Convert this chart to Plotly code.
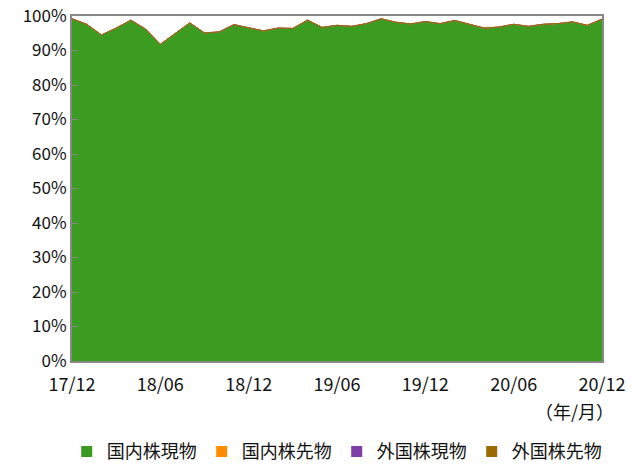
import plotly.graph_objects as go

months = []
y, m = 2017, 12
for i in range(37):
    months.append(f"{y % 100:02d}/{m:02d}")
    m += 1
    if m > 12:
        m = 1
        y += 1

domestic_spot = [99.1, 97.5, 94.4, 96.4, 98.7, 96.1, 91.7, 94.8, 97.9, 95.0,
                 95.3, 97.4, 96.6, 95.6, 96.4, 96.3, 98.7, 96.6, 97.2, 96.9,
                 97.7, 99.1, 98.1, 97.6, 98.3, 97.7, 98.6, 97.5, 96.4, 96.7,
                 97.5, 96.9, 97.5, 97.7, 98.2, 97.2, 99.0]
domestic_fut = [0.1] * 37
foreign_spot = [0.0] * 37
foreign_fut = [0.0] * 37

series_names = ["国内株現物", "国内株先物", "外国株現物", "外国株先物"]
series_vals = [domestic_spot, domestic_fut, foreign_spot, foreign_fut]
colors = ["#3c9c22", "#ff8c00", "#7f3fa8", "#9a6b00"]
tick_labels = ["17/12", "18/06", "18/12", "19/06", "19/12", "20/06", "20/12"]

fig = go.Figure()
for name, vals, c in zip(series_names, series_vals, colors):
    fig.add_trace(go.Scatter(
        x=months, y=[v / 100 for v in vals], name=name,
        mode="lines", stackgroup="one", showlegend=False,
        line=dict(color=c, width=1 if name != "国内株現物" else 0.5),
        fillcolor=c,
    ))
# legend entries with square swatches
for name, c in zip(series_names, colors):
    fig.add_trace(go.Scatter(
        x=[None], y=[None], name=name, mode="markers",
        marker=dict(symbol="square", size=11, color=c),
    ))

font = "Noto Sans CJK JP, sans-serif"
fig.update_layout(
    width=644, height=468,
    margin=dict(l=72, r=42, t=16, b=107, autoexpand=False),
    paper_bgcolor="white", plot_bgcolor="white",
    font=dict(family=font, size=16, color="#111"),
    showlegend=True,
    legend=dict(orientation="h", x=-0.01, xanchor="left",
                y=-0.263, yanchor="middle",
                font=dict(size=18), itemwidth=30, tracegroupgap=0,
                traceorder="normal"),
    xaxis=dict(type="category", range=[0, 36], tickmode="array",
               tickvals=tick_labels, ticktext=tick_labels, automargin=False,
               showline=True, linecolor="#888", linewidth=2, mirror=True,
               showgrid=False, ticks="outside", ticklen=6,
               tickcolor="rgba(0,0,0,0)", tickfont=dict(size=18)),
    yaxis=dict(range=[0, 1], tickformat=".0%", dtick=0.1, automargin=False,
               showline=True, linecolor="#888", linewidth=2, mirror=True,
               showgrid=False, ticks="inside", tickcolor="#888", ticklen=6,
               tickfont=dict(size=17)),
    annotations=[dict(text="（年/月）", x=1.0, xref="paper", xanchor="right",
                      xshift=14, y=-0.10, yref="paper", yanchor="top",
                      showarrow=False, font=dict(size=18))],
)

fig.write_html("out.html", config={"displayModeBar": False},
               post_script="document.body.style.margin='0';")
